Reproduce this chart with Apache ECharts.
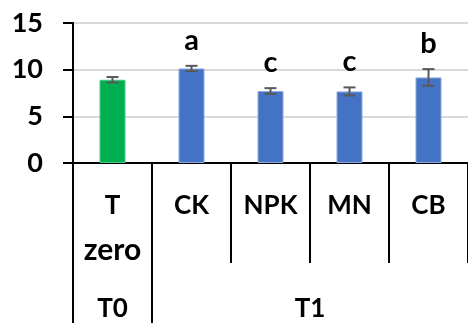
<!DOCTYPE html>
<html>
<head>
<meta charset="utf-8">
<script src="https://cdn.jsdelivr.net/npm/echarts@6/dist/echarts.min.js"></script>
<style>
  html, body { margin: 0; padding: 0; background: #fff; }
  #chart { width: 468px; height: 323px; }
</style>
</head>
<body>
<div id="chart"></div>
<script>
// Treatments, their means, standard errors and significance letters
const categories = ['T\nzero', 'CK', 'NPK', 'MN', 'CB'];
const means = [8.92, 10.13, 7.71, 7.67, 9.17];
const errors = [0.29, 0.28, 0.31, 0.43, 0.89];
const letters = ['', 'a', 'c', 'c', 'b'];
const barColors = ['#00B050', '#4472C4', '#4472C4', '#4472C4', '#4472C4'];
const groups = ['T0', 'T1'];
const groupCenters = [0.5, 3];      // positions on the 0..5 group axis
const groupBoundaries = [0, 1];
const yTicks = { min: 0, max: 15, interval: 5 };

const FONT = 'Lato, "Open Sans", sans-serif';

const chart = echarts.init(document.getElementById('chart'), null, { renderer: 'canvas' });

const barData = means.map((v, i) => ({
  value: v,
  itemStyle: { color: barColors[i], borderColor: i === 0 ? '#4cc985' : '#8fa9dc', borderWidth: 1 }
}));

// first line of a category label in style "a", any further line in style "b"
function categoryLabel(text) {
  const lines = text.split('\n');
  return lines.map((l, i) => (i === 0 ? '{a|' : '{b|') + l + '}').join('\n');
}

chart.setOption({
  animation: false,
  backgroundColor: '#fff',
  grid: { left: 73, top: 23, bottom: 160, right: -7, containLabel: false },
  xAxis: [
    {
      type: 'category',
      data: categories,
      axisLine: { show: true, lineStyle: { color: '#000', width: 2 } },
      axisTick: { show: true, interval: 0, length: 100, lineStyle: { color: '#000', width: 2 } },
      axisLabel: {
        interval: 0, margin: 24, verticalAlign: 'top',
        formatter: categoryLabel,
        rich: {
          a: { color: '#000', fontFamily: FONT, fontWeight: 'bold', fontSize: 26, lineHeight: 38 },
          b: { color: '#000', fontFamily: FONT, fontWeight: 'bold', fontSize: 30, lineHeight: 50 }
        }
      }
    },
    {
      type: 'value',
      position: 'bottom',
      min: 0, max: 5,
      axisLine: { show: false },
      splitLine: { show: false },
      axisTick: {
        show: true, customValues: groupBoundaries, length: 165,
        lineStyle: { color: '#000', width: 2 }
      },
      axisLabel: {
        customValues: groupCenters, margin: 133, color: '#000', fontFamily: FONT,
        fontWeight: 'bold', fontSize: 26, verticalAlign: 'top',
        formatter: (v) => groups[groupCenters.indexOf(v)]
      }
    }
  ],
  yAxis: {
    type: 'value',
    min: yTicks.min, max: yTicks.max, interval: yTicks.interval,
    axisLine: { show: true, lineStyle: { color: '#000', width: 2 } },
    axisTick: { show: true, length: 10, lineStyle: { color: '#000', width: 2 } },
    axisLabel: { margin: 30, color: '#000', fontFamily: FONT, fontWeight: 'bold', fontSize: 27 },
    splitLine: { show: true, lineStyle: { color: '#d9d9d9', width: 2 } }
  },
  series: [
    {
      type: 'bar',
      data: barData,
      barWidth: 26,
      xAxisIndex: 0,
      z: 2
    },
    {
      type: 'custom',
      xAxisIndex: 0,
      z: 3,
      data: means.map((m, i) => [i, m, errors[i], letters[i]]),
      renderItem: function (params, api) {
        const x = api.coord([api.value(0), 0])[0];
        const m = api.value(1), e = api.value(2);
        const top = api.coord([api.value(0), m + e])[1];
        const bot = api.coord([api.value(0), m - e])[1];
        const hw = 6;
        const style = { stroke: '#595959', lineWidth: 2 };
        const children = [
          { type: 'line', shape: { x1: x, y1: top, x2: x, y2: bot }, style },
          { type: 'line', shape: { x1: x - hw, y1: top, x2: x + hw, y2: top }, style },
          { type: 'line', shape: { x1: x - hw, y1: bot, x2: x + hw, y2: bot }, style }
        ];
        const letter = letters[params.dataIndex];
        if (letter) {
          children.push({
            type: 'text',
            style: {
              text: letter, x: x, y: top - 11,
              align: 'center', verticalAlign: 'bottom',
              fill: '#000', font: 'bold 29px ' + FONT
            }
          });
        }
        return { type: 'group', children };
      }
    }
  ]
});
</script>
</body>
</html>
